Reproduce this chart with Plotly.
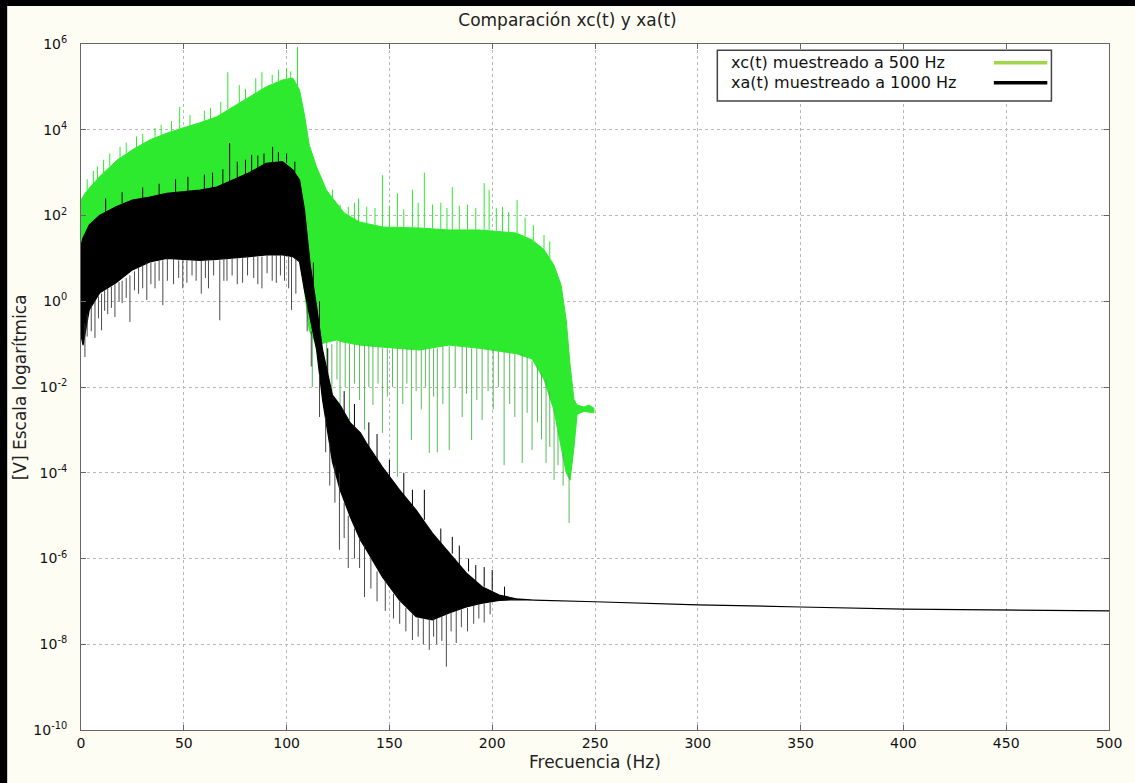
import plotly.graph_objects as go

# ---------------- data ----------------
# xc(t) sampled at 500 Hz : dense spectrum band (upper / lower envelope)
green_x = [0, 2, 4.5, 9, 17.5, 25, 33.5, 41.7, 49.5, 57.8, 66, 73.8, 82, 90, 98, 103,
           106.3, 108.7, 111, 114.6, 119.4, 124.3, 128, 135.4, 146.6, 164.6, 179, 193.7,
           211.7, 219.4, 225.2, 230, 233.5, 236, 237.9, 239.8, 241.3, 244.7, 247, 249.5]
green_hi = [230, 330, 460, 800, 1950, 3400, 5800, 8300, 1.1e4, 1.45e4, 2.0e4, 3.4e4, 5.8e4,
            1.0e5, 1.45e5, 1.6e5, 8.5e4, 2.2e4, 4.4e3, 1.35e3, 390, 195, 115, 71, 54, 51, 46,
            46, 39, 27, 16, 7, 2.4, 0.36, 0.032, 5e-3, 3.8e-3, 3.4e-3, 3.8e-3, 3.2e-3]
green_lo = [4.8, 8, 14, 27, 30, 30, 30, 30, 30, 30, 30, 30, 30, 30, 30, 30,
            10, 1.8, 0.21, 0.095, 0.11, 0.125, 0.11, 0.095, 0.085, 0.073, 0.095, 0.08,
            0.06, 0.045, 0.015, 2.9e-3, 4e-4, 1e-4, 6.7e-5, 4e-4, 2.3e-3, 2.7e-3, 2.6e-3, 2.5e-3]

# upward spikes of xc(t): frequency, base, tip
green_up_x = [3, 6, 8, 11, 14, 19, 22, 27, 30, 36, 39, 44, 48, 53, 60, 63, 68, 71.4, 77, 80,
              85, 88, 93, 96, 100, 102, 105.3,
              122.3, 126, 130, 133, 135, 139, 143, 146.6, 150, 153.9, 157, 161.2, 164, 167,
              171, 175, 178, 180.6, 184, 188, 192, 196.1, 198.5, 202, 205, 208, 212.1, 216,
              220, 225.2, 228]
green_up_base = [380, 550, 700, 950, 1400, 2200, 2800, 3800, 4600, 6400, 7500, 9000, 1.05e4,
                 1.25e4, 1.6e4, 1.8e4, 2.3e4, 3e4, 4e4, 5e4, 7e4, 8.5e4, 1.2e5, 1.35e5, 1.5e5,
                 1.55e5, 1e5,
                 150, 100, 85, 75, 70, 65, 58, 54, 53, 54, 52, 52, 51, 52, 50, 46, 46, 46, 46,
                 46, 46, 46, 46, 44, 42, 40, 39, 33, 26, 16, 10]
green_up_tip = [700, 1100, 1400, 2000, 2800, 4000, 5000, 7000, 8000, 1.1e4, 1.3e4, 1.6e4,
                3.4e4, 2.2e4, 2.8e4, 3.2e4, 4.5e4, 2.2e5, 1.1e5, 9e4, 1.6e5, 2.2e5, 1.9e5,
                2.5e5, 2.7e5, 2.3e5, 8.5e5,
                400, 180, 160, 200, 250, 160, 150, 870, 170, 330, 140, 400, 200, 1000, 180,
                200, 150, 460, 170, 180, 150, 570, 400, 150, 160, 120, 230, 90, 60, 35, 25]

# downward spikes of xc(t): frequency, base, tip
green_dn_x = [112.5, 117, 119.5, 122, 124.5, 126, 128.5, 130.6, 133, 135.5, 137.9, 140, 142,
              144.5, 146.6, 149, 151.5, 153.9, 156.5, 158.5, 160.7, 163, 165.5, 167.5, 169.4,
              171.5, 173.3, 176, 179.1, 182, 185.4, 187.5, 190, 192.5, 195.1, 198, 200.5, 203,
              205.8, 208.5, 211, 214.6, 217, 219.4, 222, 224, 226.2, 228, 230.1, 232, 234.5,
              237.4]
green_dn_base = [0.15, 0.1, 0.11, 0.1, 0.12, 0.12, 0.11, 0.1, 0.1, 0.1, 0.1, 0.1, 0.1, 0.09,
                 0.08, 0.08, 0.08, 0.08, 0.08, 0.08, 0.08, 0.075, 0.075, 0.08, 0.08, 0.08, 0.08,
                 0.09, 0.09, 0.09, 0.09, 0.085, 0.08, 0.08, 0.08, 0.08, 0.075, 0.07, 0.07,
                 0.065, 0.06, 0.06, 0.05, 0.04, 0.03, 0.02, 0.015, 8e-3, 3e-3, 1e-3, 3e-4, 1e-4]
green_dn_tip = [0.01, 8e-3, 0.02, 6.5e-3, 0.015, 4e-3, 0.01, 1.7e-3, 0.012, 5e-3, 1e-3, 0.01,
                3.8e-3, 0.012, 8.5e-4, 6e-3, 0.01, 8e-5, 4e-3, 0.012, 5.8e-4, 8e-3, 3e-3, 0.01,
                2.9e-4, 6e-3, 3e-4, 4e-3, 3.4e-4, 0.01, 2e-3, 7e-3, 5.8e-4, 5e-3, 1.7e-3, 8e-3,
                3e-3, 0.01, 1.5e-4, 4e-3, 2e-3, 1.7e-4, 2.5e-3, 3.4e-4, 1.5e-3, 6e-4, 1.7e-4,
                4e-4, 6.8e-5, 1.5e-4, 5e-5, 6.8e-6]

# xa(t) sampled at 1000 Hz
black_x = [0, 1, 4, 9, 17, 25, 33.5, 41.7, 57.8, 66, 73.8, 82, 90, 98, 103, 106.3, 108.7,
           111.5, 114.6, 117.5, 122.3, 126, 131, 135.9, 138.8, 146.6, 154.9, 163, 170.9,
           179.1, 187.4, 195.1, 203.4, 211.7, 220, 250, 300, 350, 400, 450, 500]
black_hi = [20, 30, 60, 100, 160, 230, 270, 330, 390, 460, 670, 1000, 1650, 1800, 1150, 670, 135,
            7, 0.74, 0.073, 6.5e-3, 3.8e-3, 1.45e-3, 8.5e-4, 4.9e-4, 1.35e-4, 4e-5, 1.35e-5, 3.9e-6,
            1.35e-6, 4.6e-7, 2.2e-7, 1.4e-7, 1.15e-7, 1.07e-7, 9.8e-8, 8.3e-8, 7.4e-8, 6.6e-8, 6.3e-8, 6e-8]
black_lo = [0.16, 0.095, 0.63, 1.55, 2.7, 5.4, 8.3, 10, 9, 9.5, 10, 11, 12, 12, 11, 8.3, 1.8,
            0.36, 0.073, 5e-3, 1.8e-4, 4e-5, 9.3e-6, 2.7e-6, 1.6e-6, 3.7e-7, 1.07e-7, 4.4e-8, 3.7e-8,
            5.4e-8, 7.4e-8, 9.1e-8, 1.05e-7, 1.1e-7, 1.07e-7, 9.8e-8, 8.3e-8, 7.4e-8, 6.6e-8, 6.3e-8, 6e-8]

# upward spikes of xa(t)
black_up_x = [12, 20, 30, 38, 46, 52, 60, 64, 69, 72.3, 76, 80, 83, 86, 89, 93.2, 96, 100, 104,
              113, 116, 120, 128, 133, 140, 144, 150, 157, 161.2, 167, 175, 180.6, 184, 188.5,
              192, 196.1, 200, 206]
black_up_base = [120, 190, 250, 300, 350, 370, 400, 440, 520, 600, 750, 900, 1050, 1300, 1550,
                 1700, 1800, 1700, 1000,
                 2, 0.2, 0.02, 2.5e-3, 1.2e-3, 4e-4, 2e-4, 8e-5, 3e-5, 1.5e-5, 8e-6, 2e-6,
                 1.3e-6, 7e-7, 5e-7, 3e-7, 2.2e-7, 1.8e-7, 1.3e-7]
black_up_tip = [250, 350, 450, 550, 700, 800, 900, 1000, 1200, 4.9e3, 1800, 2000, 2600, 2500,
                2800, 4e3, 3000, 2800, 1800,
                8, 1, 0.08, 8e-3, 4e-3, 1.5e-3, 8e-4, 2e-4, 1e-4, 4e-5, 4e-5, 5e-6, 3.2e-6,
                2e-6, 1e-6, 7e-7, 6.3e-7, 5.4e-7, 2.2e-7]

# downward spikes of xa(t)
black_dn_x = [1.9, 3, 5, 6.8, 8.5, 10, 11.5, 13, 14.8, 16.5, 18.5, 20, 22, 23.8, 26, 28, 30, 32,
              34, 36, 38, 39.8, 42, 45, 47.5, 49.5, 51.5, 54, 56, 58.5, 60.5, 62, 64.5, 67.5,
              69.5, 71, 73.5, 76, 78.6, 81, 84, 86, 88, 90.5, 93, 95, 97, 99, 101, 102.4, 104.5,
              110, 112, 116, 119, 121, 123.5, 125.7, 128, 130, 133, 135.5, 137.9, 141, 144, 148,
              152, 155, 158, 161.2, 164, 166.5, 169.4, 171.5, 173, 175.5, 177.7, 180, 182.5,
              185, 188, 191, 193.5, 196.1, 199]
black_dn_base = [0.3, 0.5, 0.8, 1, 1.3, 1.5, 1.8, 2, 2.2, 2.5, 2.8, 3, 3.5, 4, 5, 6, 7, 8, 8, 8,
                 9, 9, 10, 10, 9, 9, 9, 9, 9, 9, 9, 9, 9, 9, 10, 10, 10, 10, 10, 11, 11, 11, 11,
                 12, 12, 12, 12, 12, 11, 11, 10,
                 1, 0.2, 0.02, 2e-3, 5e-4, 1.5e-4, 1e-4, 2e-5, 1e-5, 5e-6, 3e-6, 2e-6, 1e-6,
                 5e-7, 3e-7, 1.5e-7, 1e-7, 7e-8, 5e-8, 4e-8, 4e-8, 4e-8, 4e-8, 4e-8, 4.5e-8,
                 5e-8, 5.5e-8, 6e-8, 6.5e-8, 7e-8, 8e-8, 8.5e-8, 9e-8, 9.5e-8]
black_dn_tip = [0.05, 0.15, 0.2, 0.14, 0.4, 0.21, 0.6, 0.5, 0.7, 0.43, 1, 0.9, 1.2, 0.33, 1.8,
                1.5, 2, 1.07, 2.5, 2, 3, 0.81, 3, 2.5, 3.5, 2, 2.7, 4, 3, 1.5, 3.5, 2, 4, 0.36,
                3, 3, 4, 2.5, 2.7, 4, 3.5, 2.5, 2, 4.5, 3, 2.7, 4, 3, 2, 0.63, 1.5,
                0.2, 0.03, 2e-3, 3e-4, 5e-5, 2e-5, 1.6e-6, 3e-6, 6e-7, 1e-6, 6e-7, 1.26e-7,
                2e-7, 1e-7, 6e-8, 4e-8, 3e-8, 2e-8, 1.26e-8, 1.5e-8, 1e-8, 7.4e-9, 1.5e-8,
                1e-8, 1.2e-8, 3e-9, 2e-8, 1.07e-8, 2.5e-8, 2e-8, 3e-8, 4e-8, 3.2e-8, 5e-8]

series_names = ["xc(t) muestreado a 500 Hz", "xa(t) muestreado a 1000 Hz"]
x_ticks = [0, 50, 100, 150, 200, 250, 300, 350, 400, 450, 500]
y_exps = [-10, -8, -6, -4, -2, 0, 2, 4, 6]

GREEN = "#2eea2e"
GREEN_SPK = "rgba(70,180,70,0.9)"
GREEN_LEG = "#9fd64a"
BLACK = "#000000"
BLACK_SPK = "rgba(55,55,55,0.9)"


def band(xs, hi, lo):
    return xs + xs[::-1], hi + lo[::-1]


def spikes(xs, a, b):
    px, py = [], []
    for x, y0, y1 in zip(xs, a, b):
        px += [x, x, None]
        py += [y0, y1, None]
    return px, py


fig = go.Figure()


def add_lines(xy, color, width=1):
    fig.add_trace(go.Scatter(x=xy[0], y=xy[1], mode="lines",
                             line=dict(color=color, width=width),
                             showlegend=False, hoverinfo="skip"))


gx, gy = band(green_x, green_hi, green_lo)
fig.add_trace(go.Scatter(x=gx, y=gy, mode="lines", fill="toself", fillcolor=GREEN,
                         line=dict(color=GREEN, width=1), name=series_names[0],
                         showlegend=False, hoverinfo="skip"))
add_lines(spikes(green_up_x, green_up_base, green_up_tip), GREEN)
add_lines(spikes(green_dn_x, green_dn_base, green_dn_tip), GREEN_SPK)

bx, by = band(black_x, black_hi, black_lo)
fig.add_trace(go.Scatter(x=bx, y=by, mode="lines", fill="toself", fillcolor=BLACK,
                         line=dict(color=BLACK, width=1.2), name=series_names[1],
                         showlegend=False, hoverinfo="skip"))
add_lines(spikes(black_up_x, black_up_base, black_up_tip), BLACK)
add_lines(spikes(black_dn_x, black_dn_base, black_dn_tip), BLACK_SPK)

FONT = "DejaVu Sans"
axis_common = dict(showline=True, linecolor="#666", linewidth=1, mirror="ticks",
                   ticks="inside", ticklen=5, tickcolor="#666",
                   showgrid=True, gridcolor="#b8b8b8", griddash="dot", gridwidth=1,
                   zeroline=False, tickfont=dict(family=FONT, size=14, color="#111"))

fig.update_xaxes(range=[0, 500], tickvals=x_ticks, **axis_common)
fig.update_yaxes(type="log", range=[-10, 6],
                 tickvals=[10.0 ** e for e in y_exps],
                 ticktext=["10<sup>%d</sup>" % e for e in y_exps],
                 ticklabelstandoff=10, **axis_common)

shapes = [
    # outer black frame (left and top)
    dict(type="rect", xref="paper", yref="paper", x0=-0.08, x1=-0.0718, y0=-0.08, y1=1.066,
         fillcolor="black", line=dict(width=0), layer="above"),
    dict(type="rect", xref="paper", yref="paper", x0=-0.08, x1=1.03, y0=1.0554, y1=1.066,
         fillcolor="black", line=dict(width=0), layer="above"),
    # legend box
    dict(type="rect", xref="paper", yref="paper", x0=0.619, x1=0.944, y0=0.917, y1=0.991,
         fillcolor="white", line=dict(color="#444", width=1.5), layer="above"),
    dict(type="line", xref="paper", yref="paper", x0=0.888, x1=0.940, y0=0.9725, y1=0.9725,
         line=dict(color=GREEN_LEG, width=3.5), layer="above"),
    dict(type="line", xref="paper", yref="paper", x0=0.888, x1=0.940, y0=0.9435, y1=0.9435,
         line=dict(color=BLACK, width=3.5), layer="above"),
]

annotations = [
    dict(text=series_names[0], xref="paper", yref="paper", x=0.630, y=0.9725,
         xanchor="left", yanchor="middle", showarrow=False,
         font=dict(family=FONT, size=16, color="#111")),
    dict(text=series_names[1], xref="paper", yref="paper", x=0.630, y=0.9435,
         xanchor="left", yanchor="middle", showarrow=False,
         font=dict(family=FONT, size=16, color="#111")),
    dict(text="Frecuencia (Hz)", xref="paper", yref="paper", x=0.5, y=-0.047,
         xanchor="center", yanchor="middle", showarrow=False,
         font=dict(family=FONT, size=17, color="#222")),
    dict(text="[V] Escala logarítmica", xref="paper", yref="paper", x=-0.059, y=0.5,
         xanchor="center", yanchor="middle", textangle=-90, showarrow=False,
         font=dict(family=FONT, size=17, color="#222")),
]

fig.update_layout(
    width=1135, height=783,
    margin=dict(l=81, r=26, t=44, b=53),
    paper_bgcolor="#fefdf4", plot_bgcolor="white",
    title=dict(text="Comparación xc(t) y xa(t)", x=0.5, xanchor="center",
               y=0.974, yanchor="middle",
               font=dict(family=FONT, size=17, color="#222")),
    shapes=shapes, annotations=annotations, showlegend=False,
)

fig.write_html("out.html")
